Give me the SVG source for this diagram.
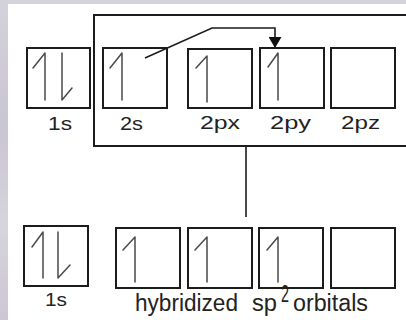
<svg xmlns="http://www.w3.org/2000/svg" width="406" height="320" viewBox="0 0 406 320">
  <defs>
    <linearGradient id="edge" x1="0" y1="0" x2="0" y2="1">
      <stop offset="0" stop-color="#d4d2da"/>
      <stop offset="0.4" stop-color="#c9c5d3"/>
      <stop offset="0.7" stop-color="#d6d4dc"/>
      <stop offset="1" stop-color="#cbc7d4"/>
    </linearGradient>
    <!-- solid triangular head, drawn along +x so orient="auto" points it down the path -->
    <marker id="head" viewBox="0 0 11 13" refX="11" refY="6.5" markerWidth="11" markerHeight="13" markerUnits="userSpaceOnUse" orient="auto">
      <path d="M0,0 L11,6.5 L0,13 Z" fill="#111"/>
    </marker>
  </defs>
  <style>
    .box { fill: none; stroke: #1c1c1c; stroke-width: 2; }
    .spin { fill: none; stroke: #4a4a4a; stroke-width: 1.5; stroke-linecap: round; stroke-linejoin: round; }
    .lbl { font-family: "Liberation Sans", Arial, sans-serif; font-size: 19px; fill: #222; }
    .cap { font-family: "Liberation Sans", Arial, sans-serif; font-size: 23px; fill: #222; }
    .wire { fill: none; stroke: #1c1c1c; stroke-width: 1.6; }
  </style>

  <!-- paper background with a textured border strip -->
  <rect x="0" y="0" width="406" height="320" fill="url(#edge)"/>
  <rect x="8" y="4" width="398" height="316" fill="#ffffff"/>

  <!-- valence frame round the 2s and 2p orbitals -->
  <g id="valence-frame">
    <path class="box" d="M407,15 H94 V146 H407"/>
  </g>

  <g id="connectors">
    <!-- promotion of a 2s electron into 2py -->
    <path class="wire" d="M145,58 L212,28 H275 V48" marker-end="url(#head)"/>
    <!-- frame to hybrid row -->
    <line class="wire" x1="246" y1="146" x2="246" y2="217"/>
  </g>

  <!-- ground state -->
  <g id="g-1s">
    <rect class="box" x="27" y="48" width="63" height="60"/>
    <path class="spin" d="M45,100 V53 L33,68"/>
    <path class="spin" d="M62,53 V100 L72,88"/>
    <text class="lbl" x="48" y="130" textLength="24" lengthAdjust="spacingAndGlyphs">1s</text>
  </g>
  <g id="g-2s">
    <rect class="box" x="103" y="48" width="64" height="60"/>
    <path class="spin" d="M122,100 V53 L110,68"/>
    <text class="lbl" x="120" y="130" textLength="23" lengthAdjust="spacingAndGlyphs">2s</text>
  </g>
  <g id="g-2px">
    <rect class="box" x="188" y="49" width="64" height="59"/>
    <path class="spin" d="M207,102 V56 L196,68"/>
    <text class="lbl" x="200" y="129" textLength="40" lengthAdjust="spacingAndGlyphs">2px</text>
  </g>
  <g id="g-2py">
    <rect class="box" x="260" y="48" width="64" height="60"/>
    <path class="spin" d="M278,100 V53 L268,67"/>
    <text class="lbl" x="270" y="129" textLength="41" lengthAdjust="spacingAndGlyphs">2py</text>
  </g>
  <g id="g-2pz">
    <rect class="box" x="331" y="48" width="64" height="60"/>
    <text class="lbl" x="341" y="129" textLength="39" lengthAdjust="spacingAndGlyphs">2pz</text>
  </g>

  <!-- hybridized state -->
  <g id="h-1s">
    <rect class="box" x="24" y="226" width="64" height="60"/>
    <path class="spin" d="M43,278 V232 L32,247"/>
    <path class="spin" d="M58,232 V278 L70,265"/>
    <text class="lbl" x="45" y="306" textLength="22" lengthAdjust="spacingAndGlyphs">1s</text>
  </g>
  <g id="h-sp2-1">
    <rect class="box" x="116" y="228" width="64" height="60"/>
    <path class="spin" d="M135,282 V237 L123,250"/>
  </g>
  <g id="h-sp2-2">
    <rect class="box" x="188" y="228" width="64" height="60"/>
    <path class="spin" d="M207,282 V237 L195,250"/>
  </g>
  <g id="h-sp2-3">
    <rect class="box" x="259" y="228" width="64" height="60"/>
    <path class="spin" d="M278,282 V237 L267,250"/>
  </g>
  <g id="h-2p">
    <rect class="box" x="331" y="228" width="64" height="60"/>
  </g>
  <g id="h-caption">
    <text class="cap" x="135" y="311" textLength="103" lengthAdjust="spacingAndGlyphs">hybridized</text>
    <text class="cap" x="252" y="311" textLength="25" lengthAdjust="spacingAndGlyphs">sp</text>
    <text class="cap" x="281" y="302" font-size="14" textLength="8" lengthAdjust="spacingAndGlyphs">2</text>
    <text class="cap" x="293" y="311" textLength="75" lengthAdjust="spacingAndGlyphs">orbitals</text>
  </g>
</svg>
